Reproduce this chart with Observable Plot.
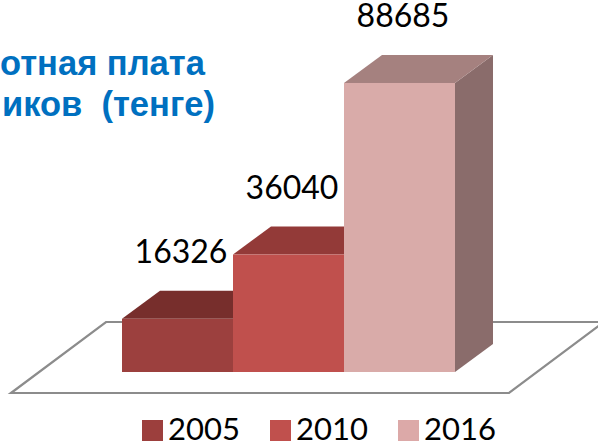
<!DOCTYPE html>
<html><head><meta charset="utf-8">
<script src="https://cdn.jsdelivr.net/npm/d3@7"></script>
<script src="https://cdn.jsdelivr.net/npm/@observablehq/plot@0.6"></script>
<style>body{margin:0;background:#fff}</style>
</head><body><div id="chart"></div>
<script>
const years = ["2005", "2010", "2016"];
const values = [16326, 36040, 88685];
const frontColors = ["#9C403E", "#C0504D", "#D9ABA9"];
const topColors = ["#772E2C", "#933A38", "#A5817F"];
const sideColors = ["#5E2423", "#7A3230", "#8A6C6B"];
const legendColors = ["#9C3F3D", "#C0504D", "#DCA9A8"];
const titleLines = ["отная плата", "иков  (тенге)"];

const data = years.map((year, i) => ({year, value: values[i], front: frontColors[i], top: topColors[i], side: sideColors[i]}));

const DX = 38, DY = -28;
const labelFont = "Lato, 'Open Sans', sans-serif";

function bandOf(x) {
  return x.bandwidth ? x.bandwidth() : (x(years[1]) - x(years[0]));
}

function floorMark(index, {x, y}) {
  const bw = bandOf(x);
  const left = x(years[0]) - 111;
  const right = x(years[years.length - 1]) + bw + 54;
  const base = y(0) + 21;
  const g = d3.create("svg:g");
  g.append("path")
    .attr("d", `M${left},${base}L${left + 95},${base - 71}L${right + 95},${base - 71}L${right},${base}Z`)
    .attr("fill", "none").attr("stroke", "#8C8C8C").attr("stroke-width", 2.2);
  return g.node();
}

function facesMark(index, {x, y}) {
  const bw = bandOf(x);
  const y0 = y(0);
  const g = d3.create("svg:g");
  data.forEach(d => {
    const x0 = x(d.year), x1 = x0 + bw, yt = y(d.value);
    g.append("path")
      .attr("d", `M${x1},${yt}L${x1 + DX},${yt + DY}L${x1 + DX},${y0 + DY}L${x1},${y0}Z`)
      .attr("fill", d.side);
    g.append("path")
      .attr("d", `M${x0},${yt}L${x0 + DX},${yt + DY}L${x1 + DX},${yt + DY}L${x1},${yt}Z`)
      .attr("fill", d.top);
  });
  return g.node();
}

function titleLegendMark() {
  const g = d3.create("svg:g").attr("text-anchor", "start");
  const t = g.append("g")
    .attr("font-family", "'Liberation Sans', Arial, sans-serif")
    .attr("font-weight", "bold").attr("font-size", 34.5).attr("fill", "#0070C0")
    .style("white-space", "pre");
  t.append("text").attr("x", 0).attr("y", 75).text(titleLines[0]);
  t.append("text").attr("x", 2).attr("y", 116).text(titleLines[1]);
  const lg = g.append("g").attr("font-family", labelFont).attr("font-size", 31).attr("fill", "#000");
  years.forEach((yr, i) => {
    const lx = 142 + i * 128;
    lg.append("rect").attr("x", lx).attr("y", 420).attr("width", 21).attr("height", 21).attr("fill", legendColors[i]);
    lg.append("text").attr("x", lx + 26).attr("y", 440).text(yr);
  });
  return g.node();
}

const chart = Plot.plot({
  width: 598,
  height: 444,
  margin: 0,
  style: {background: "#fff", overflow: "hidden"},
  x: {domain: years, range: [121, 455], padding: 0, axis: null},
  y: {domain: [0, 90000], range: [372, 78.7], axis: null},
  marks: [
    floorMark,
    facesMark,
    Plot.barY(data, {x: "year", y: "value", fill: "front", inset: 0}),
    Plot.text(data, {x: "year", y: "value", text: d => String(d.value), dx: 3, dy: -56,
      lineAnchor: "bottom", fontSize: 32, fontFamily: labelFont, fill: "#000"}),
    titleLegendMark
  ]
});
document.getElementById("chart").appendChild(chart);
</script>
</body></html>
